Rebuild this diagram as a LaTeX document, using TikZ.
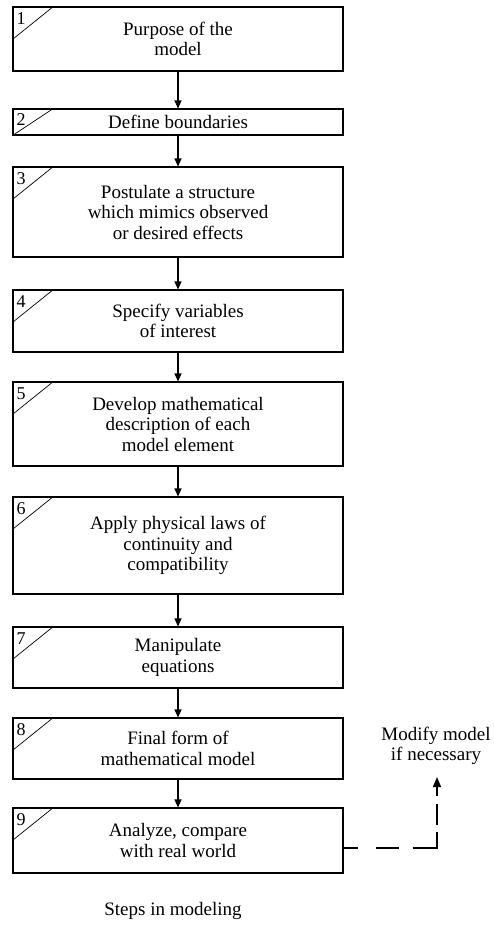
\documentclass[tikz,border=0pt]{standalone}
\usepackage{fontspec}
\setmainfont{Liberation Serif}
\usetikzlibrary{arrows.meta,calc}
\begin{document}
\begin{tikzpicture}[x=1pt,y=-1pt,
  stepbox/.style={draw,line width=1.1pt,minimum width=330pt,inner sep=0pt,align=center,
    font=\fontsize{19}{20.5}\selectfont},
  numlbl/.style={inner sep=0pt,anchor=base west,font=\fontsize{18}{18}\selectfont},
  diag/.style={line width=0.7pt},
  flow/.style={line width=1.1pt,-{Triangle[length=8pt,width=7pt]}},
  fb/.style={line width=1.5pt,dash pattern=on 14pt off 18pt on 23pt off 14pt on 40pt off 7pt on 21pt off 8pt on 200pt,
    -{Triangle[length=10pt,width=8pt]}},
  txt/.style={align=center,inner sep=0pt,font=\fontsize{19}{20.5}\selectfont}]
\useasboundingbox (0,0) rectangle (493,934);
\node[stepbox,minimum height=64pt] (b1) at (178,39) {Purpose of the\\model};
\node[stepbox,minimum height=26pt] (b2) at (178,122) {Define boundaries};
\node[stepbox,minimum height=90pt] (b3) at (178,212) {Postulate a structure\\which mimics observed\\or desired effects};
\node[stepbox,minimum height=62pt] (b4) at (178,321) {Specify variables\\of interest};
\node[stepbox,minimum height=84pt] (b5) at (178,424) {Develop mathematical\\description of each\\model element};
\node[stepbox,minimum height=97pt] (b6) at (178,545.5) {Apply physical laws of\\continuity and\\compatibility};
\node[stepbox,minimum height=61pt] (b7) at (178,657.5) {Manipulate\\equations};
\node[stepbox,minimum height=61pt] (b8) at (178,748.5) {Final form of\\mathematical model};
\node[stepbox,minimum height=65pt] (b9) at (178,840.5) {Analyze, compare\\with real world};
\foreach \i in {1,3,4,5,6,7,8,9}{
  \draw[diag] ($(b\i.north west)+(0,33)$) -- ($(b\i.north west)+(41,0)$);
  \node[numlbl] (n\i) at ($(b\i.north west)+(4,18)$) {\i};
}
\draw[diag] (b2.south west) -- ($(b2.north west)+(41,0)$);
\node[numlbl] (n2) at ($(b2.north west)+(4,17)$) {2};
\foreach \a/\b in {b1/b2,b2/b3,b3/b4,b4/b5,b5/b6,b6/b7,b7/b8,b8/b9}{
  \draw[flow] (\a.south) -- (\b.north);
}
\node[txt] (mod) at (436,746) {Modify model\\if necessary};
\node[txt] (cap) at (173,911) {Steps in modeling};
\coordinate (corner) at (437,848);
\coordinate (tip) at (437,777);
\draw[fb] ([yshift=-7.5pt]b9.east) -- (corner) -- (tip);
\end{tikzpicture}
\end{document}
